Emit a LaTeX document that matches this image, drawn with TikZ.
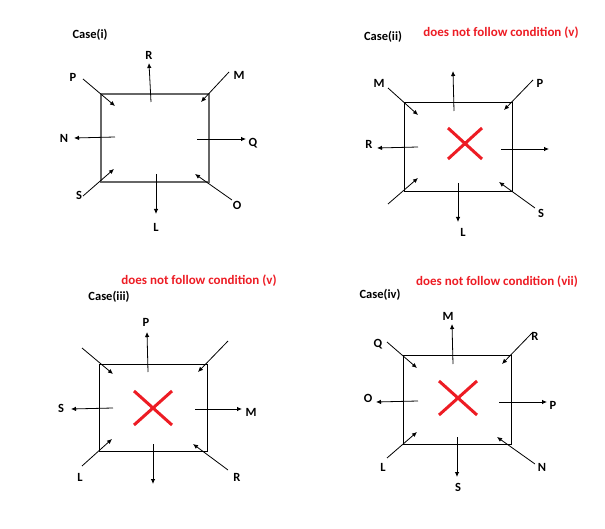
\documentclass[tikz,border=0pt]{standalone}
\usepackage{fontspec}
\setmainfont{Carlito}
\usepackage{tikz}
\usetikzlibrary{arrows.meta}
\definecolor{xred}{RGB}{237,28,36}

\begin{document}
\begin{tikzpicture}[x=1pt,y=-1pt,
  lbl/.style={font=\bfseries\fontsize{12.5}{14}\selectfont, inner sep=0pt},
  note/.style={font=\bfseries\fontsize{13}{15}\selectfont, text=xred, inner sep=0pt},
  arr/.style={-{Latex[length=5pt,width=4.5pt]}, line width=0.8pt},
  cross/.style={xred, line width=3pt}]
  \useasboundingbox (0,0) rectangle (605,529);
  % case (i)
  \node[lbl] (casei) at (90,35) {Case(i)};
  \draw[black!60, line width=1.6pt] (101,94) rectangle (209,182);
  \draw[arr] (83,79) -- (115,106);   \node[lbl] (iP) at (73,77) {P};
  \draw[arr] (151,102) -- (149,63);  \node[lbl] (iR) at (149,55) {R};
  \draw[arr] (229,72) -- (201,102);  \node[lbl] (iM) at (239,75) {M};
  \draw[arr] (115,137) -- (74,138);  \node[lbl] (iN) at (64,138) {N};
  \draw[arr] (197,139) -- (246,139); \node[lbl] (iQ) at (253,143) {Q};
  \draw[arr] (83,196) -- (114,169);  \node[lbl] (iS) at (79,195) {S};
  \draw[arr] (156,174) -- (156,214); \node[lbl] (iL) at (156,227) {L};
  \draw[arr] (232,200) -- (195,174); \node[lbl] (iO) at (237,205) {O};
  % case (ii)
  \node[lbl] (caseii) at (383,37) {Case(ii)};
  \node[note] (noteii) at (501,33) {does not follow condition (v)};
  \draw[line width=0.9pt] (404,102) rectangle (512,191);
  \draw[arr] (388,88) -- (418,115);  \node[lbl] (iiM) at (379,83) {M};
  \draw[arr] (454,111) -- (453,71);
  \draw[arr] (533,80) -- (504,110);  \node[lbl] (iiP) at (540,83) {P};
  \draw[arr] (418,147) -- (377,148); \node[lbl] (iiR) at (369,144) {R};
  \draw[arr] (501,149) -- (549,149);
  \draw[arr] (388,204) -- (418,178);
  \draw[arr] (458,183) -- (458,222); \node[lbl] (iiL) at (463,232) {L};
  \draw[arr] (535,208) -- (499,182); \node[lbl] (iiS) at (541,213) {S};
  \draw[cross] (448,128) -- (482,159) (482,128) -- (448,159);
  % case (iii)
  \node[note] (noteiii) at (199,281) {does not follow condition (v)};
  \node[lbl] (caseiii) at (109,297) {Case(iii)};
  \draw[line width=0.9pt] (99,364) rectangle (207,451);
  \draw[arr] (82,348) -- (113,374);
  \draw[arr] (148,372) -- (147,332); \node[lbl] (iiiP) at (146,322) {P};
  \draw[arr] (228,341) -- (198,372);
  \draw[arr] (113,408) -- (71,409);  \node[lbl] (iiiS) at (61,408) {S};
  \draw[arr] (195,409) -- (242,409); \node[lbl] (iiiM) at (251,412) {M};
  \draw[arr] (82,466) -- (112,439);  \node[lbl] (iiiL) at (80,477) {L};
  \draw[arr] (153,444) -- (153,484);
  \draw[arr] (228,470) -- (193,444); \node[lbl] (iiiR) at (237,477) {R};
  \draw[cross] (134,391) -- (172,425) (172,391) -- (134,425);
  % case (iv)
  \node[note] (noteiv) at (497,282) {does not follow condition (vii)};
  \node[lbl] (caseiv) at (380,295) {Case(iv)};
  \draw[line width=0.9pt] (403,355) rectangle (511,444);
  \draw[arr] (387,342) -- (417,368); \node[lbl] (ivQ) at (378,344) {Q};
  \draw[arr] (453,364) -- (452,324); \node[lbl] (ivM) at (448,316) {M};
  \draw[arr] (532,333) -- (502,364); \node[lbl] (ivR) at (535,336) {R};
  \draw[arr] (418,401) -- (376,402); \node[lbl] (ivO) at (368,398) {O};
  \draw[arr] (499,402) -- (547,402); \node[lbl] (ivP) at (553,405) {P};
  \draw[arr] (387,458) -- (417,432); \node[lbl] (ivL) at (383,467) {L};
  \draw[arr] (457,437) -- (457,477); \node[lbl] (ivS) at (458,487) {S};
  \draw[arr] (535,464) -- (497,437); \node[lbl] (ivN) at (542,467) {N};
  \draw[cross] (439,381) -- (477,415) (477,381) -- (439,415);
\end{tikzpicture}
\end{document}
